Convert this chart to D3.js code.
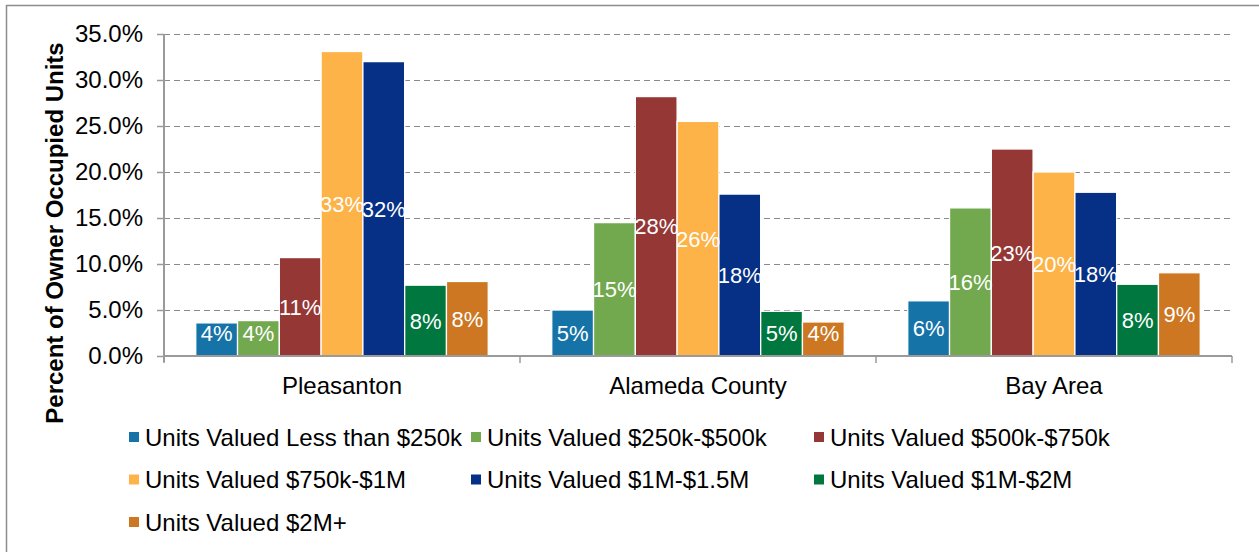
<!DOCTYPE html>
<html>
<head>
<meta charset="utf-8">
<script src="https://cdn.jsdelivr.net/npm/d3@7"></script>
<style>
  html, body { margin: 0; padding: 0; background: #fff; }
  svg { display: block; font-family: Arial, "Liberation Sans", sans-serif; }
</style>
</head>
<body>
<svg id="chart" width="1259" height="552"></svg>
<script>
// Share of owner-occupied units by home value band
const categories = ["Pleasanton", "Alameda County", "Bay Area"];
const seriesNames = [
  "Units Valued Less than $250k",
  "Units Valued $250k-$500k",
  "Units Valued $500k-$750k",
  "Units Valued $750k-$1M",
  "Units Valued $1M-$1.5M",
  "Units Valued $1M-$2M",
  "Units Valued $2M+"
];
const seriesColors = ["#1673A8", "#72A84E", "#953735", "#FDB347", "#062F86", "#00773F", "#CD7722"];
// percent values, one array per geography, in series order
const pleasanton    = [3.6, 3.85, 10.7, 33.1, 32.0, 7.7, 8.1];
const alamedaCounty = [5.0, 14.5, 28.2, 25.5, 17.6, 4.86, 3.7];
const bayArea       = [6.0, 16.1, 22.5, 20.0, 17.8, 7.8, 9.05];
const valuesByCategory = [pleasanton, alamedaCounty, bayArea];
const yTicks = [0, 5, 10, 15, 20, 25, 30, 35];
const yTitle = "Percent of Owner Occupied Units";

const svg = d3.select("#chart");
const plot = { left: 164, right: 1232, top: 34, bottom: 356 };
const axisColor = "#9a9a9a";

// outer frame
svg.append("line").attr("x1", 6).attr("x2", 1259).attr("y1", 5.5).attr("y2", 5.5)
  .attr("stroke", "#8c8c8c").attr("stroke-width", 1.5);
svg.append("line").attr("x1", 6.5).attr("x2", 6.5).attr("y1", 5).attr("y2", 552)
  .attr("stroke", "#8c8c8c").attr("stroke-width", 1.5);

const x = d3.scaleBand().domain(categories).range([plot.left, plot.right]).padding(0);
const xs = d3.scaleBand().domain(seriesNames).range([0, x.bandwidth()])
  .paddingInner(0).paddingOuter(0.76);
const y = d3.scaleLinear().domain([0, 35]).range([plot.bottom, plot.top]);

// dashed gridlines
svg.append("g").selectAll("line").data(yTicks.filter(t => t > 0)).join("line")
  .attr("x1", plot.left).attr("x2", plot.right)
  .attr("y1", d => Math.round(y(d)) + 0.5).attr("y2", d => Math.round(y(d)) + 0.5)
  .attr("stroke", "#8a8a8a").attr("stroke-width", 1).attr("stroke-dasharray", "6,4");

// y axis
const yAxis = d3.axisLeft(y).tickValues(yTicks).tickFormat(d => d.toFixed(1) + "%")
  .tickSize(7).tickPadding(14);
const gy = svg.append("g").attr("transform", `translate(${plot.left},0)`).call(yAxis);
gy.select(".domain").remove();
gy.selectAll(".tick line").attr("stroke", axisColor).attr("stroke-width", 1.5);
gy.selectAll(".tick text").attr("font-size", 24).attr("fill", "#000")
  .attr("font-family", "Arial, 'Liberation Sans', sans-serif");
svg.append("line").attr("x1", plot.left).attr("x2", plot.left)
  .attr("y1", plot.top).attr("y2", plot.bottom + 6)
  .attr("stroke", axisColor).attr("stroke-width", 2);

// bars
const groups = svg.append("g").selectAll("g").data(categories).join("g")
  .attr("transform", d => `translate(${x(d)},0)`);
groups.selectAll("rect")
  .data((c, i) => valuesByCategory[i].map((v, j) => ({ name: seriesNames[j], v, color: seriesColors[j] })))
  .join("rect")
  .attr("x", d => xs(d.name))
  .attr("width", xs.bandwidth())
  .attr("y", d => y(d.v))
  .attr("height", d => y(0) - y(d.v))
  .attr("fill", d => d.color)
  .attr("stroke", "#fff").attr("stroke-width", 1.3);

// value labels, centred in each bar
groups.selectAll("text")
  .data((c, i) => valuesByCategory[i].map((v, j) => ({ name: seriesNames[j], v })))
  .join("text")
  .attr("x", d => xs(d.name) + xs.bandwidth() / 2)
  .attr("y", d => Math.min((y(d.v) + y(0)) / 2, y(0) - 23) + 8)
  .attr("text-anchor", "middle")
  .attr("font-size", 22)
  .attr("fill", "#fff")
  .text(d => Math.round(d.v) + "%");

// x axis
const xAxis = d3.axisBottom(x).tickSize(0).tickPadding(0);
const gx = svg.append("g").attr("transform", `translate(0,${plot.bottom})`).call(xAxis);
gx.select(".domain").remove();
gx.selectAll(".tick text").attr("font-size", 24).attr("fill", "#000")
  .attr("y", 38).attr("dy", 0)
  .attr("font-family", "Arial, 'Liberation Sans', sans-serif");
svg.append("line").attr("x1", plot.left).attr("x2", plot.right)
  .attr("y1", plot.bottom).attr("y2", plot.bottom)
  .attr("stroke", axisColor).attr("stroke-width", 2);
const boundaries = categories.map(c => x(c)).concat([plot.right]);
svg.append("g").selectAll("line").data(boundaries).join("line")
  .attr("x1", d => d).attr("x2", d => d)
  .attr("y1", plot.bottom).attr("y2", plot.bottom + 7)
  .attr("stroke", axisColor).attr("stroke-width", 1.5);

// y axis title
svg.append("text")
  .attr("transform", "translate(63,233) rotate(-90)")
  .attr("text-anchor", "middle")
  .attr("font-size", 24).attr("font-weight", "bold").attr("fill", "#000")
  .text(yTitle);

// legend: three columns, wrapping rows
const legendCols = [129, 471, 814];
const legendRows = [437, 479.5, 522];
const legend = svg.append("g").selectAll("g").data(seriesNames).join("g")
  .attr("transform", (d, i) => `translate(${legendCols[i % 3]},${legendRows[Math.floor(i / 3)]})`);
legend.append("rect").attr("x", 0).attr("y", -5).attr("width", 10).attr("height", 10)
  .attr("fill", (d, i) => seriesColors[i]);
legend.append("text").attr("x", 16).attr("y", 8.6)
  .attr("font-size", 24).attr("fill", "#000")
  .text(d => d);
</script>
</body>
</html>
